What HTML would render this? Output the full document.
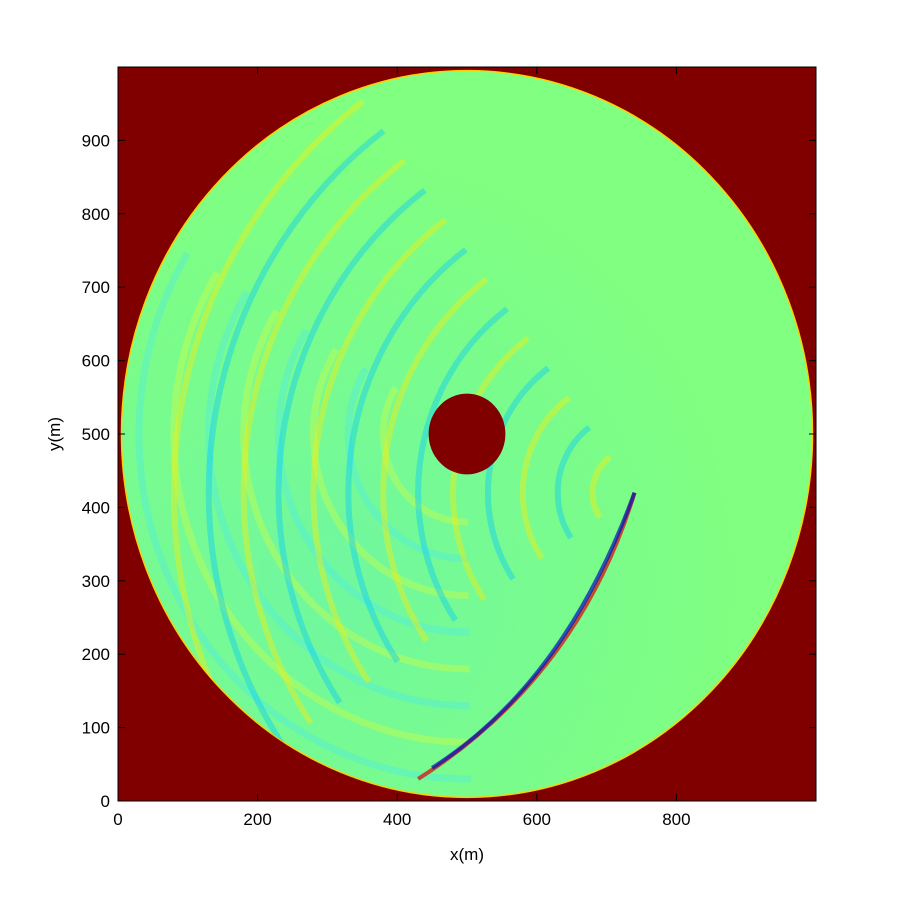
<!DOCTYPE html>
<html><head><meta charset="utf-8"><style>
html,body{margin:0;padding:0;background:#fff;overflow:hidden;width:900px;height:900px;}
svg{display:block;}
svg text{font-family:"Liberation Sans",sans-serif;font-size:17px;fill:#000;}
</style></head><body>
<svg id="c" width="900" height="900" viewBox="0 0 900 900" xmlns="http://www.w3.org/2000/svg">
<defs>
<clipPath id="disk"><ellipse id="dclip" cx="0" cy="0" rx="0" ry="0"/></clipPath>
<radialGradient id="glow" cx="0.3" cy="0.7" r="0.6"><stop offset="0" stop-color="#40e0ff" stop-opacity="0.25"/><stop offset="1" stop-color="#40e0ff" stop-opacity="0"/></radialGradient>
</defs>
<g id="plot"></g>
<g id="axes"></g>
</svg>
<script>
const xTicks=[0,200,400,600,800];
const yTicks=[0,100,200,300,400,500,600,700,800,900];
const domainMax=1000;
const diskCenter=[500,500];
const diskRadius=495;
const holeRadius=55;
const sourcePoint=[740,420];
const waveRadii=[60,110,160,210,260,310,360,410,460,510,560,610,660];
const waveSign=[1,-1,1,-1,1,-1,1,-1,1,-1,1,-1,1];
const ringRadii=[120,170,220,270,320,370,420,470];

const L=118,R=816,T=67,B=801;
const sx=v=>L+(v/domainMax)*(R-L);
const sy=v=>B-(v/domainMax)*(B-T);
const NS="http://www.w3.org/2000/svg";
function mk(tag,attrs,parent){const e=document.createElementNS(NS,tag);for(const k in attrs)e.setAttribute(k,attrs[k]);parent.appendChild(e);return e;}
const plot=document.getElementById('plot'),axes=document.getElementById('axes');

const bg=mk('rect',{x:L,y:T,width:R-L,height:B-T,fill:'#800000'},plot);


const cx=sx(diskCenter[0]),cy=sy(diskCenter[1]);
const rx=sx(diskRadius)-sx(0),ry=sy(0)-sy(diskRadius);
const dc=document.getElementById('dclip');
dc.setAttribute('cx',cx);dc.setAttribute('cy',cy);dc.setAttribute('rx',rx);dc.setAttribute('ry',ry);
const disk=mk('ellipse',{cx:cx,cy:cy,rx:rx,ry:ry,fill:'#80ff80',stroke:'#ffd000','stroke-width':1.5},plot);



const g=mk('g',{'clip-path':'url(#disk)'},plot);


mk('rect',{x:L,y:T,width:R-L,height:B-T,fill:'url(#glow)'},g);
ringRadii.forEach((r,i)=>{
  const rr=sx(r)-sx(0);
  const e=mk('ellipse',{cx:cx,cy:cy,rx:rr,ry:sy(0)-sy(r),fill:'none',stroke:i%2?'#40e8ff':'#f0ff20','stroke-width':7,opacity:0.3,'stroke-dasharray':'0 '+(rr*1.6)+' '+(rr*2.2)+' 99999'},g);
  
  
});
const px=sx(sourcePoint[0]),py=sy(sourcePoint[1]);
waveRadii.forEach((r,i)=>{
  const rrx=sx(r)-sx(0),rry=sy(0)-sy(r);
  const col=waveSign[i]>0?'#ffee00':'#00c8ff';
  const e=mk('ellipse',{cx:px,cy:py,rx:rrx,ry:rry,fill:'none',stroke:col,'stroke-width':6,opacity:0.4,
    'stroke-dasharray':'0 '+(rrx*2.6)+' '+(rrx*1.6)+' 99999'},g);
  
  
});
[['#e00000',0],['#0010c0',1]].forEach(([col,i])=>{
  const p=mk('path',{d:`M${px} ${py} Q ${sx(660-i*20)} ${sy(170-i*10)} ${sx(430+i*20)} ${sy(30+i*15)}`,fill:'none',stroke:col,'stroke-width':4,opacity:0.7},g);
  
  
});
const hole=mk('ellipse',{cx:cx,cy:cy,rx:sx(holeRadius)-sx(0),ry:sy(0)-sy(holeRadius),fill:'#800000'},plot);



const frame=mk('rect',{x:L,y:T,width:R-L,height:B-T,fill:'none',stroke:'#000','stroke-width':1},axes);


xTicks.forEach(v=>{
  const x=sx(v);
  mk('line',{x1:x,x2:x,y1:B,y2:B-7,stroke:'#000'},axes);
  mk('line',{x1:x,x2:x,y1:T,y2:T+7,stroke:'#000'},axes);
  const t=mk('text',{x:x,y:B+24,'text-anchor':'middle'},axes);t.textContent=v;
  
  
});
yTicks.forEach(v=>{
  const y=sy(v);
  mk('line',{x1:L,x2:L+7,y1:y,y2:y,stroke:'#000'},axes);
  mk('line',{x1:R,x2:R-7,y1:y,y2:y,stroke:'#000'},axes);
  const t=mk('text',{x:L-8,y:y+6,'text-anchor':'end'},axes);t.textContent=v;
  
  
});
const xt=mk('text',{x:(L+R)/2,y:860,'text-anchor':'middle'},axes);xt.textContent='x(m)';


const yt=mk('text',{x:0,y:0,'text-anchor':'middle',transform:`translate(60 ${(T+B)/2}) rotate(-90)`},axes);yt.textContent='y(m)';


</script>
</body></html>
